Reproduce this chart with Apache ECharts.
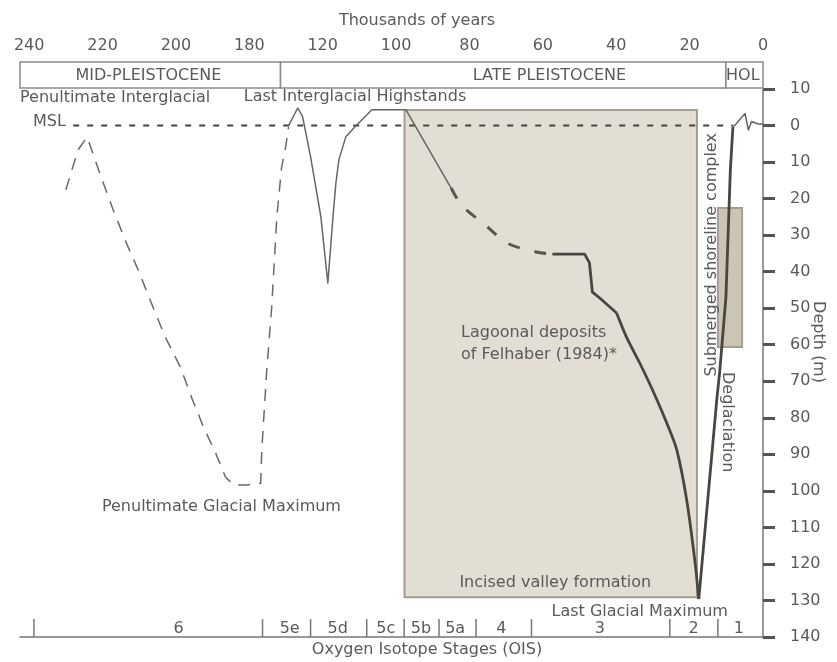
<!DOCTYPE html>
<html><head><meta charset="utf-8">
<script src="https://cdn.jsdelivr.net/npm/echarts@6/dist/echarts.min.js"></script>
<style>html,body{margin:0;padding:0;background:#fff}#c{width:837px;height:662px}</style>
</head><body><div id="c"></div>
<script>
// ---------------- DATA (ages in thousands of years, elevation in m relative to MSL) ----------------
const topTickLabels = [240, 220, 200, 180, 120, 100, 80, 60, 40, 20, 0];

const penultimateKa   = [230, 226.7, 224.2, 220.4, 217.1, 213.5, 210.3, 206.7, 202.9, 198.8, 195.8, 192.5, 189.2, 186.5, 184.3, 180.7, 136.9, 136.6, 135.3, 133.9, 132.5, 131.2, 130.1, 129.3];
const penultimateElev = [-17.6, -6.7, -3.1, -14.1, -23.1, -32.2, -39.5, -48.6, -57.9, -66.1, -74.3, -82.5, -89.6, -96.2, -98.4, -98.4, -97.9, -88.8, -67.7, -49.7, -25, -11.4, -5.9, -0.4];

const lastInterglacialKa   = [129.3, 126.8, 125.5, 123.3, 120.5, 118.6, 117.2, 116.4, 115.6, 113.7, 111.5, 106.6, 97.3, 85.0];
const lastInterglacialElev = [0, 4.8, 2.5, -8.6, -25, -43.1, -25, -15.7, -9.4, -3.1, -0.7, 4.3, 4.3, -17.1];

const regressionKa   = [85.0, 82.0, 75.7, 69.7, 61.8, 57.4];
const regressionElev = [-17.1, -22.0, -27.2, -32.2, -34.6, -35.2];

const stepKa   = [57.4, 48.6, 47.3, 46.5, 44.5, 39.9];
const stepElev = [-35.2, -35.2, -37.6, -45.6, -47.2, -51.3];

const lgmDescentKa   = [39.9, 37.2, 33.6, 30.1, 26.0, 23.5, 20.8, 18.6, 17.5];
const lgmDescentElev = [-51.3, -57.9, -65.0, -72.4, -82.0, -88.8, -102.5, -118.9, -129.6];

const deglaciationKa   = [17.5, 12.6, 11.75, 10.1, 8.9, 8.2];
const deglaciationElev = [-129.6, -75.1, -66.9, -46.9, -12.2, -0.4];

const holoceneKa   = [8.2, 7.65, 4.9, 4.0, 3.1, 1.3, 0];
const holoceneElev = [-0.4, 0.1, 3.3, -1.2, 1.1, 0.4, 0.4];

const mslKa   = [228, 8.2];
const mslElev = [0, 0];

const epochNames   = ['MID-PLEISTOCENE', 'LATE PLEISTOCENE', 'HOL'];
const epochFromKa  = [242.5, 131.5, 10.1];
const epochToKa    = [131.5, 10.1, 0];
const epochLabelKa = [207.5, 58.2, 5.5];

const oisNames    = ['6', '5e', '5d', '5c', '5b', '5a', '4', '3', '2', '1'];
const oisBoundKa  = [238.7, 136.4, 123.3, 108.0, 97.8, 88.3, 78.2, 63.1, 25.4, 12.3];
const oisLabelKa  = [199.3, 129.0, 115.9, 102.8, 93.2, 83.9, 71.3, 44.5, 18.9, 6.6];

const boxNames      = ['Incised valley formation', 'Submerged shoreline complex'];
const boxFromKa     = [97.7, 12.3];
const boxToKa       = [18.0, 5.7];
const boxTopElev    = [4.25, -22.6];
const boxBottomElev = [-129.1, -60.6];

const annotationTexts = ['Penultimate Interglacial', 'MSL', 'Last Interglacial Highstands', 'Penultimate Glacial Maximum',
  'Lagoonal deposits\nof Felhaber (1984)*', 'Incised valley formation', 'Last Glacial Maximum', 'Submerged shoreline complex', 'Deglaciation'];
const annotationKa   = [242.5, 230.0, 111.2, 187.6, 82.3, 56.6, 33.6, 13.9, 9.8];
const annotationElev = [7.5, 0.9, 7.8, -104.4, -59.8, -125.2, -133.2, -35.4, -81.2];

// ---------------- broken time axis (180–240 ka section shifted by 40 ka) ----------------
const BREAK_SHIFT = 40;
function toAxis(ka) { return ka >= 170 ? ka - BREAK_SHIFT : ka; }
function fromAxis(u) { return u > 135 ? u + BREAK_SHIFT : u; }
function pairs(kas, elevs) { return kas.map((k, i) => [toAxis(k), elevs[i]]); }

// ---------------- STYLES ----------------
const FONT = '"DejaVu Sans", "Liberation Sans", Arial, sans-serif';
const TXT = '#5a5a5a';
const annotationAlign  = ['left', 'right', 'center', 'center', 'left', 'center', 'center', 'center', 'center'];
const annotationRotate = [0, 0, 0, 0, 0, 0, 0, Math.PI / 2, -Math.PI / 2];
const boxFill   = ['#e2ded3', '#cbc5b6'];
const boxStroke = ['#a39e91', '#a39e91'];

const AX_MAX = 202.5;

const chart = echarts.init(document.getElementById('c'), null, { renderer: 'canvas' });

function lineSeries(name, data, color, width, type, smooth) {
  return {
    name, type: 'line', xAxisIndex: 0, yAxisIndex: 0, data,
    symbol: 'none', showSymbol: false, smooth: smooth || false, animation: false,
    lineStyle: { color, width, type: type || 'solid', cap: 'butt', join: 'round' },
    z: 5
  };
}

const option = {
  animation: false,
  backgroundColor: '#fff',
  textStyle: { fontFamily: FONT },
  grid: [
    { left: 20, right: 74, top: 89, bottom: 25, containLabel: false },
    { left: 20, right: 74, top: 62, height: 26, containLabel: false }
  ],
  xAxis: [
    { gridIndex: 0, type: 'value', min: 0, max: AX_MAX, inverse: true, position: 'bottom',
      axisLine: { show: true, onZero: false, lineStyle: { color: '#777', width: 1.5 } },
      axisTick: { show: false }, axisLabel: { show: false }, splitLine: { show: false } },
    { gridIndex: 1, type: 'value', min: 0, max: AX_MAX, inverse: true, position: 'top',
      axisLine: { show: false, onZero: false }, axisTick: { show: false }, splitLine: { show: false },
      axisLabel: { show: true, customValues: topTickLabels.map(toAxis), margin: 8,
        fontSize: 16, color: TXT, fontFamily: FONT,
        formatter: v => String(Math.round(fromAxis(v))) } }
  ],
  yAxis: [
    { gridIndex: 0, type: 'value', min: -140, max: 10, interval: 10, position: 'right',
      axisLine: { show: true, onZero: false, lineStyle: { color: '#9a9a9a', width: 2 } },
      axisTick: { show: true, inside: false, length: 12, lineStyle: { color: '#555', width: 3 } },
      axisLabel: { show: true, margin: 27, fontSize: 16, color: TXT, fontFamily: FONT,
        formatter: v => String(Math.abs(v)) },
      splitLine: { show: false } },
    { gridIndex: 1, type: 'value', min: 0, max: 1, show: false }
  ],
  graphic: [
    { type: 'text', x: 417, y: 21, style: { text: 'Thousands of years', font: '16px ' + FONT, fill: TXT, align: 'center', verticalAlign: 'middle' } },
    { type: 'text', x: 427, y: 650, style: { text: 'Oxygen Isotope Stages (OIS)', font: '16px ' + FONT, fill: TXT, align: 'center', verticalAlign: 'middle' } },
    { type: 'text', x: 818, y: 342, rotation: -Math.PI / 2, style: { text: 'Depth (m)', font: '16px ' + FONT, fill: TXT, align: 'center', verticalAlign: 'middle' } }
  ],
  series: [
    // shaded boxes
    { type: 'custom', name: 'boxes', xAxisIndex: 0, yAxisIndex: 0, z: 1, animation: false, clip: false,
      data: boxFromKa.map((f, i) => [toAxis(f), boxTopElev[i], toAxis(boxToKa[i]), boxBottomElev[i]]),
      renderItem: (params, api) => {
        const p1 = api.coord([api.value(0), api.value(1)]);
        const p2 = api.coord([api.value(2), api.value(3)]);
        const i = params.dataIndex;
        return { type: 'rect',
          shape: { x: Math.min(p1[0], p2[0]), y: Math.min(p1[1], p2[1]), width: Math.abs(p2[0] - p1[0]), height: Math.abs(p2[1] - p1[1]) },
          style: { fill: boxFill[i], stroke: boxStroke[i], lineWidth: 2 } };
      } },
    lineSeries('MSL', pairs(mslKa, mslElev), '#444', 2, [6, 8]),
    lineSeries('Penultimate', pairs(penultimateKa, penultimateElev), '#6a6a6a', 1.5, [12, 9]),
    lineSeries('Last interglacial', pairs(lastInterglacialKa, lastInterglacialElev), '#666', 1.5),
    lineSeries('Regression', pairs(regressionKa, regressionElev), '#5a5650', 3, [12, 15], 0.3),
    lineSeries('Step', pairs(stepKa, stepElev), '#4a4540', 2.8),
    lineSeries('To LGM', pairs(lgmDescentKa, lgmDescentElev), '#4a4540', 2.8, null, 0.3),
    lineSeries('Deglaciation', pairs(deglaciationKa, deglaciationElev), '#4a4540', 2.8),
    lineSeries('Holocene', pairs(holoceneKa, holoceneElev), '#666', 1.5),
    // OIS dividers
    { type: 'custom', name: 'OIS bounds', xAxisIndex: 0, yAxisIndex: 0, z: 6, animation: false, clip: false,
      data: oisBoundKa.map(k => [toAxis(k), -140]),
      renderItem: (params, api) => {
        const a = api.coord([api.value(0), -140]);
        const b = api.coord([api.value(0), -135.1]);
        return { type: 'line', shape: { x1: a[0], y1: a[1], x2: b[0], y2: b[1] }, style: { stroke: '#777', lineWidth: 1.5 } };
      } },
    // OIS labels
    { type: 'custom', name: 'OIS labels', xAxisIndex: 0, yAxisIndex: 0, z: 6, animation: false, clip: false,
      data: oisLabelKa.map(k => [toAxis(k), -137.8]),
      renderItem: (params, api) => {
        const p = api.coord([api.value(0), api.value(1)]);
        return { type: 'text', x: p[0], y: p[1], style: { text: oisNames[params.dataIndex], font: '16px ' + FONT, fill: TXT, align: 'center', verticalAlign: 'middle' } };
      } },
    // annotations
    { type: 'custom', name: 'annotations', xAxisIndex: 0, yAxisIndex: 0, z: 7, animation: false, clip: false,
      data: annotationKa.map((k, i) => [toAxis(k), annotationElev[i]]),
      renderItem: (params, api) => {
        const i = params.dataIndex;
        const p = api.coord([api.value(0), api.value(1)]);
        return { type: 'text', x: p[0], y: p[1], rotation: annotationRotate[i],
          style: { text: annotationTexts[i], font: '16px ' + FONT, fill: TXT, align: annotationAlign[i], verticalAlign: 'middle', lineHeight: 22 } };
      } },
    // epoch header boxes
    { type: 'custom', name: 'epochs', xAxisIndex: 1, yAxisIndex: 1, z: 3, animation: false, clip: false,
      data: epochFromKa.map((f, i) => [toAxis(f), 1, toAxis(epochToKa[i]), 0, toAxis(epochLabelKa[i])]),
      renderItem: (params, api) => {
        const i = params.dataIndex;
        const p1 = api.coord([api.value(0), api.value(1)]);
        const p2 = api.coord([api.value(2), api.value(3)]);
        const lp = api.coord([api.value(4), 0.5]);
        return { type: 'group', children: [
          { type: 'rect', shape: { x: Math.min(p1[0], p2[0]), y: Math.min(p1[1], p2[1]), width: Math.abs(p2[0] - p1[0]), height: Math.abs(p2[1] - p1[1]) },
            style: { fill: '#fff', stroke: '#8a8a8a', lineWidth: 1.5 } },
          { type: 'text', x: lp[0], y: lp[1] + 1, style: { text: epochNames[i], font: '16px ' + FONT, fill: TXT, align: 'center', verticalAlign: 'middle' } }
        ] };
      } }
  ]
};
chart.setOption(option);
</script>
</body></html>
